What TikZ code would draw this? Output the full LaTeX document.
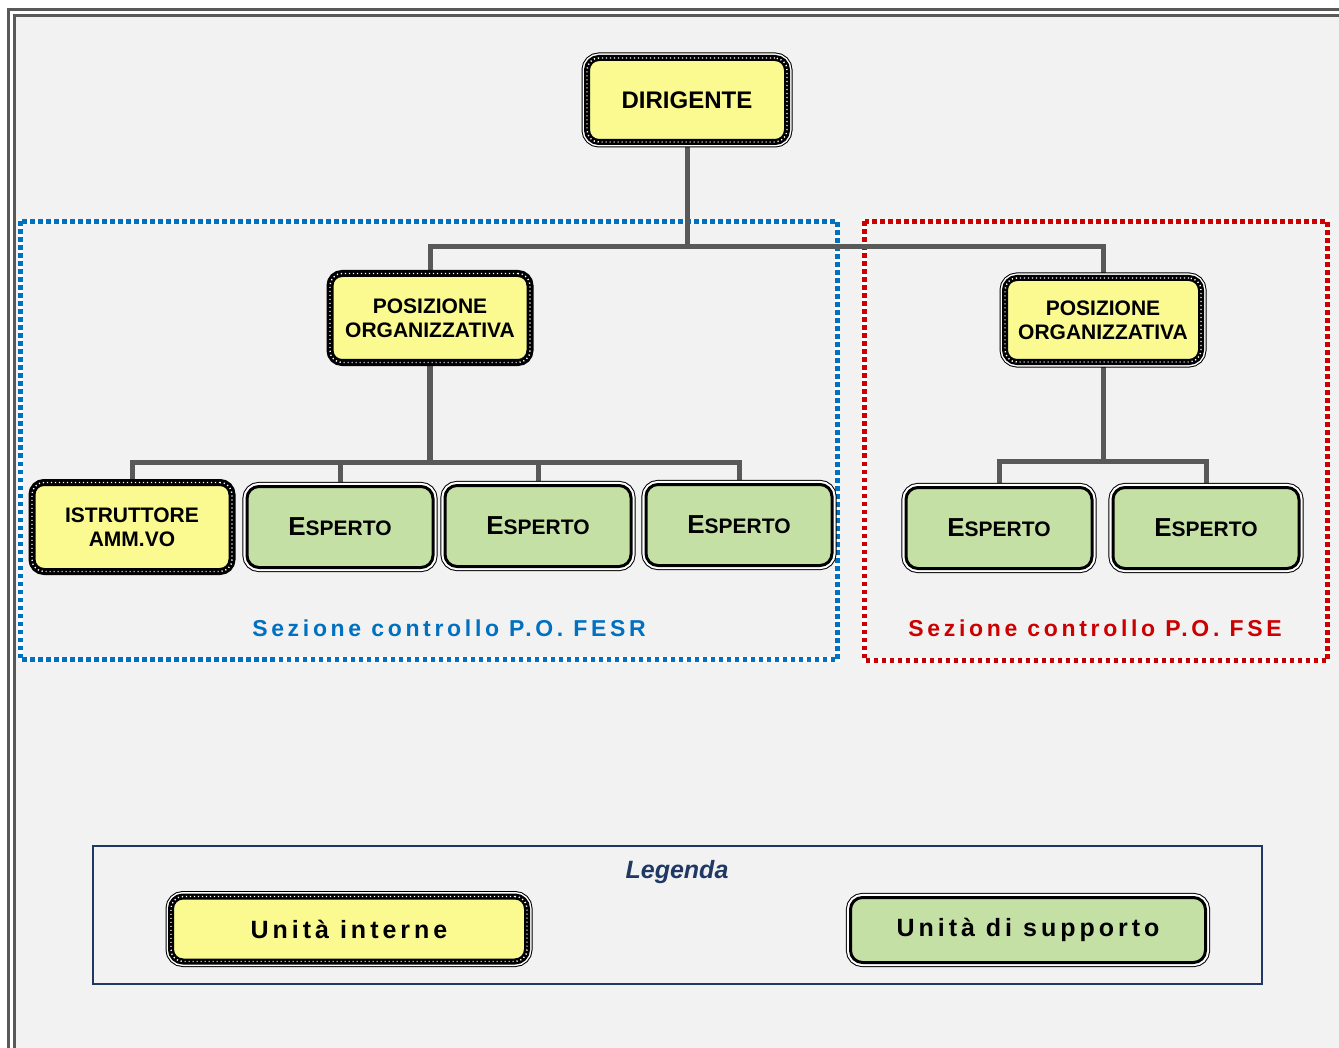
\documentclass[tikz,border=0pt]{standalone}
\usepackage{fontspec}
\setmainfont{Liberation Sans}
\usetikzlibrary{positioning,calc}
\definecolor{pagegray}{RGB}{242,242,242}
\definecolor{framegray}{RGB}{89,89,89}
\definecolor{linegray}{RGB}{89,89,89}
\definecolor{unityellow}{RGB}{250,250,145}
\definecolor{unitgreen}{RGB}{197,224,165}
\definecolor{fesrblue}{RGB}{0,112,192}
\definecolor{fsered}{RGB}{204,0,0}
\definecolor{legnavy}{RGB}{31,56,100}
\newcommand{\espertotext}{{\fontsize{13}{15}\selectfont E}{\fontsize{10.5}{12}\selectfont SPERTO}}
\pgfdeclarelayer{back}
\pgfsetlayers{back,main}

\begin{document}
\begin{tikzpicture}[x=0.5pt, y=-0.5pt,
    interna/.style={rectangle, rounded corners=6pt, fill=unityellow, draw=black, line width=3pt, outer sep=0pt, inner sep=2pt, align=center, minimum width=98pt, minimum height=42pt,
        font=\fontsize{10.5}{12}\selectfont\bfseries,
        preaction={draw=black, line width=5.5pt}, preaction={draw=white, line width=4.5pt},
        postaction={draw=white, line width=0.7pt, dash pattern=on 0.6pt off 1.4pt}},
    internab/.style={rectangle, rounded corners=6pt, fill=unityellow, draw=black, line width=3.5pt, outer sep=0pt, inner sep=2pt, align=center, minimum width=100pt, minimum height=44.5pt,
        font=\fontsize{10.5}{12}\selectfont\bfseries,
        postaction={draw=white, line width=0.7pt, dash pattern=on 0.6pt off 1.4pt}},
    supporto/.style={rectangle, rounded corners=6pt, fill=unitgreen, draw=black, line width=1.5pt, outer sep=0pt, align=center, minimum width=93pt, minimum height=40.5pt,
        font=\bfseries,
        preaction={draw=black, line width=4.6pt}, preaction={draw=white, line width=3.6pt}},
    sezione/.style={line width=2.5pt, preaction={draw=white, solid, line width=2.5pt}, dash pattern=on 2.2pt off 1.8pt},
    seztext/.style={font=\fontsize{11.5}{13}\selectfont\bfseries\addfontfeature{LetterSpace=16}},
    legtext/.style={font=\fontsize{12.5}{14}\selectfont\bfseries\addfontfeature{LetterSpace=16}},
    conn/.style={draw=linegray, line width=2.5pt}
]
\useasboundingbox (0,0) rectangle (1339,1048);
\begin{pgfonlayer}{back}
\fill[white] (0,0) rectangle (1339,1048);
\fill[pagegray] (16,17) rectangle (1339,1048);
\draw[framegray, line width=1.5pt] (8.5,1048) -- (8.5,9.5) -- (1339,9.5);
\draw[framegray, line width=1.5pt] (14.5,1048) -- (14.5,15.5) -- (1339,15.5);
\draw[sezione, fesrblue] (20.5,221.5) rectangle (837.5,659.5);
\draw[sezione, fsered] (864.5,221.5) rectangle (1327.5,660.5);
\draw[legnavy, line width=1pt] (93,846) rectangle (1262,984);
\end{pgfonlayer}

\node[interna, minimum width=100pt] (dir) at (687,100) {\fontsize{12}{14}\selectfont DIRIGENTE};
\node[internab] (po1) at (430,318) {POSIZIONE\\ORGANIZZATIVA};
\node[interna] (po2) at (1103,320) {POSIZIONE\\ORGANIZZATIVA};
\node[internab] (istr) at (132,527) {ISTRUTTORE\\AMM.VO};
\node[supporto] (esp1) at (340,527) {\espertotext};
\node[supporto] (esp2) at (538,526) {\espertotext};
\node[supporto] (esp3) at (739,525) {\espertotext};
\node[supporto] (esp4) at (999,528) {\espertotext};
\node[supporto] (esp5) at (1206,528) {\espertotext};

\node[seztext, text=fesrblue] (fesrlab) at (449,628) {Sezione controllo P.O. FESR};
\node[seztext, text=fsered] (fselab) at (1095,628) {Sezione controllo P.O. FSE};

\node[font=\fontsize{12.5}{14}\selectfont\bfseries\itshape, text=legnavy] (legtit) at (677,872) {Legenda};
\node[interna, legtext, minimum width=178pt, minimum height=32.5pt] (leg1) at (349,929) {Unità interne};
\node[supporto, legtext, minimum width=177.5pt, minimum height=32.5pt] (leg2) at (1028,930) {Unità di supporto};

\coordinate (bus0) at (687,247);
\coordinate (bus1) at (430,462);
\coordinate (bus2) at (1103,461);
\begin{pgfonlayer}{back}
\draw[conn] (dir.south) -- (bus0);
\draw[conn] (po1.north) |- (bus0) -| (po2.north);
\draw[conn, line width=3pt] (po1.south) -- (bus1);
\draw[conn] (istr.north) |- (bus1) -| (esp3.north);
\draw[conn] (esp1.north) -- (esp1.north |- bus1);
\draw[conn] (esp2.north) -- (esp2.north |- bus1);
\draw[conn] (po2.south) -- (bus2);
\draw[conn] (esp4.north) |- (bus2) -| (esp5.north);
\end{pgfonlayer}
\end{tikzpicture}
\end{document}
